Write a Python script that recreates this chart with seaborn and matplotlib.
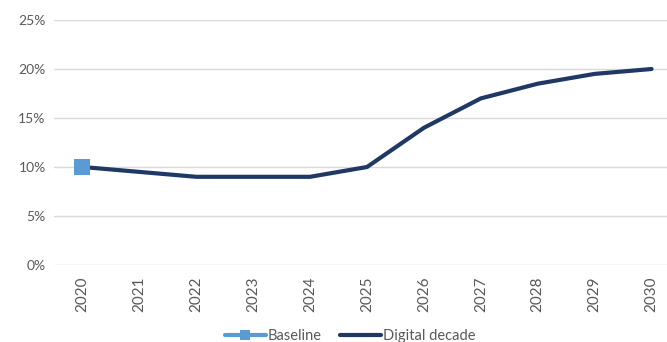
import numpy as np
import pandas as pd
import matplotlib
matplotlib.use("Agg")
import matplotlib.pyplot as plt
import seaborn as sns
from matplotlib.ticker import PercentFormatter

years = ["2020", "2021", "2022", "2023", "2024", "2025", "2026", "2027", "2028", "2029", "2030"]
baseline = [10.0, np.nan, np.nan, np.nan, np.nan, np.nan, np.nan, np.nan, np.nan, np.nan, np.nan]
digital_decade = [10.0, 9.5, 9.0, 9.0, 9.0, 10.0, 14.0, 17.0, 18.5, 19.5, 20.0]
y_ticks = [0, 5, 10, 15, 20, 25]

sns.set_theme(style="white")
plt.rcParams["font.family"] = ["Lato", "DejaVu Sans"]

df = pd.DataFrame({"x": np.arange(len(years)), "Baseline": baseline, "Digital decade": digital_decade})

fig = plt.figure(figsize=(6.67, 3.42), dpi=100)
ax = fig.add_axes([54 / 667, 1 - 265 / 342, 626 / 667, 245 / 342])

sns.lineplot(data=df, x="x", y="Baseline", ax=ax, color="#5B9BD5", linewidth=3,
             marker="s", markersize=11, markeredgewidth=0, label="Baseline", zorder=3)
sns.lineplot(data=df, x="x", y="Digital decade", ax=ax, color="#1F3864", linewidth=3,
             label="Digital decade", zorder=2)

ax.set_xlim(-0.5, len(years) - 0.5)
ax.set_ylim(0, 25)
ax.set_xticks(np.arange(len(years)))
ax.set_xticklabels(years, rotation=90)
ax.set_yticks(y_ticks)
ax.yaxis.set_major_formatter(PercentFormatter(decimals=0))
ax.set_xlabel("")
ax.set_ylabel("")
ax.grid(axis="y", color="#D9D9D9", linewidth=1)
ax.grid(axis="x", visible=False)
for s in ax.spines.values():
    s.set_visible(False)
ax.tick_params(axis="both", length=0, labelsize=10, labelcolor="#595959")
ax.tick_params(axis="x", labelsize=11, pad=8)
ax.tick_params(axis="y", pad=6)

handles, labels = ax.get_legend_handles_labels()
ax.legend_.remove()
fig.legend(handles, labels, loc="center", bbox_to_anchor=(350 / 667, 1 - 336 / 342),
           ncol=2, frameon=False, fontsize=10.5, handlelength=2.8, handletextpad=0.1,
           columnspacing=1.3, markerscale=0.7, labelcolor="#595959")

fig.savefig("out.png", dpi=100)
